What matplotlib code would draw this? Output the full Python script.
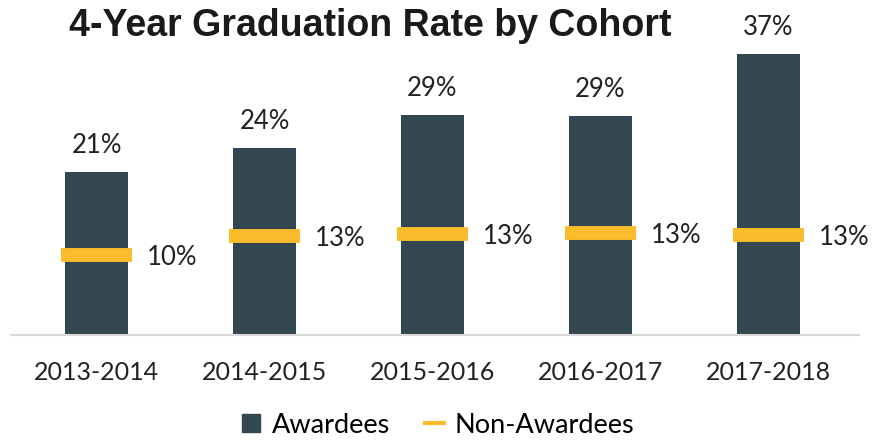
import matplotlib
matplotlib.use('Agg')
import matplotlib.pyplot as plt
from matplotlib.lines import Line2D
import numpy as np

# =============================================================================
# 4-Year Graduation Rate by Cohort
# =============================================================================
cohorts = ['2013-2014', '2014-2015', '2015-2016', '2016-2017', '2017-2018']
awardees = [21.3, 24.4, 28.8, 28.6, 36.7]
awardee_labels = ['21%', '24%', '29%', '29%', '37%']
non_awardees = [10.4, 12.9, 13.2, 13.3, 13.1]
non_awardee_labels = ['10%', '13%', '13%', '13%', '13%']

BAR = '#32474f'
GOLD = '#fbbc2c'
FONT = 'Lato'

fig = plt.figure(figsize=(8.76, 4.4), dpi=100)
ax = fig.add_axes([11 / 876, 105 / 440, 848 / 876, 306 / 440])

x = np.arange(len(cohorts))
ax.bar(x, awardees, width=0.375, color=BAR, zorder=2)
ax.hlines(non_awardees, x - 0.21, x + 0.21, colors=GOLD, linewidth=10,
          zorder=3)

for xi, v, t in zip(x, awardees, awardee_labels):
    ax.text(xi, v + 2.5, t, ha='center', va='baseline', fontsize=18.5,
            family=FONT, color='#222222')
for xi, v, t in zip(x, non_awardees, non_awardee_labels):
    ax.text(xi + 0.3, v - 0.3, t, ha='left', va='center', fontsize=18.5,
            family=FONT, color='#222222')

ax.set_xlim(-0.51, 4.54)
ax.set_ylim(0, 40)
ax.set_xticks(x)
ax.set_xticklabels(cohorts, fontsize=18, family=FONT, color='#222222')
ax.tick_params(axis='x', length=0, pad=19)
ax.set_yticks([])
for s in ['top', 'right', 'left']:
    ax.spines[s].set_visible(False)
ax.spines['bottom'].set_color('#d9d9d9')
ax.spines['bottom'].set_linewidth(1.5)

fig.text(370 / 876, 1 - 26 / 440, '4-Year Graduation Rate by Cohort',
         ha='center', va='center', fontsize=27, fontweight='bold',
         family='Liberation Sans', color='#1a1a1a')

handles = [
    Line2D([], [], color=BAR, marker='s', markersize=13, linestyle='None'),
    Line2D([], [], color=GOLD, linewidth=3),
]
fig.legend(handles, ['Awardees', 'Non-Awardees'], loc='center',
           bbox_to_anchor=(0.5, 1 - 425 / 440), ncol=2, frameon=False,
           prop={'family': FONT, 'size': 19.5}, handlelength=0.7,
           columnspacing=1.3, handletextpad=0.4)

plt.savefig('out.png', dpi=100)
